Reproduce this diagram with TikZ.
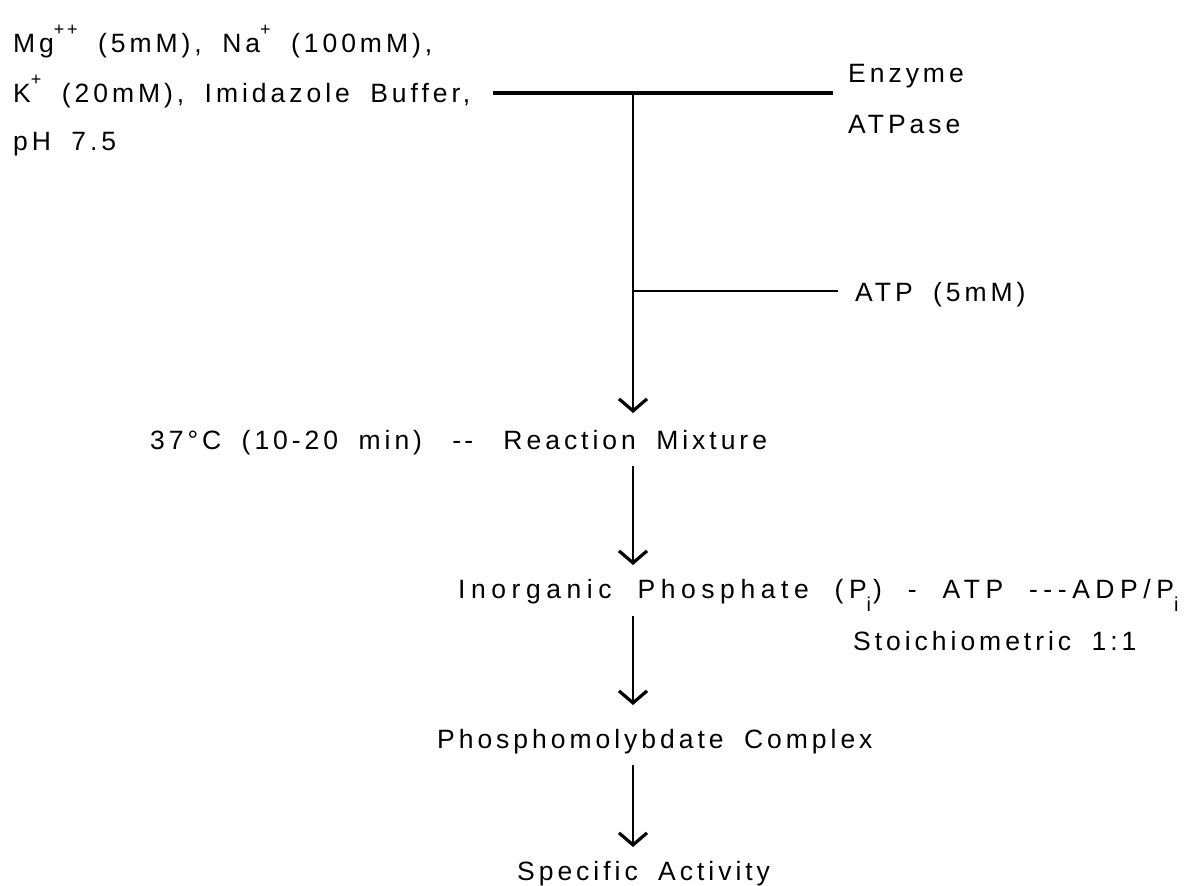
\documentclass[tikz,border=0pt]{standalone}
\usepackage{fontspec}
\setmainfont{Liberation Sans}[LetterSpace=15, WordSpace=1.8]
\newfontfamily\widefont{Liberation Sans}[LetterSpace=21, WordSpace=2.0]
\usetikzlibrary{arrows.meta}
\newcommand{\sbi}{\raisebox{-0.5em}{\fontsize{20}{21}\selectfont i}\kern2pt}
\newcommand{\spr}[1]{\raisebox{0.62em}{\fontsize{18}{19}\selectfont #1}}
\begin{document}
\begin{tikzpicture}[x=1pt,y=-1pt,
  lbl/.style={inner sep=0pt, font=\fontsize{26.5}{30}\selectfont},
  ln/.style={line width=2.6pt},
  arr/.style={line width=2.8pt, -{Straight Barb[length=12pt,width=28pt,line width=3.2pt]}}]
\useasboundingbox (0,0) rectangle (1203,886);
% left text
\node[lbl, anchor=base west] (l1) at (13,52) {Mg\spr{++} (5mM), Na\spr{+} (100mM),};
\node[lbl, anchor=base west] (l2) at (13,102) {K\spr{+} (20mM), Imidazole Buffer,};
\node[lbl, anchor=base west] (l3) at (13,150) {pH 7.5};
% right labels
\node[lbl, anchor=base west] (enz) at (848,82) {Enzyme};
\node[lbl, anchor=base west] (atpase) at (848,133) {ATPase};
\node[lbl, anchor=base west] (atp) at (855,301) {ATP (5mM)};
% top bar
\coordinate (b1) at (493,93);
\coordinate (b2) at (833,93);
\coordinate (j1) at (633,93);
\coordinate (j2) at (633,291);
\coordinate (a2) at (838,291);
\coordinate (t1) at (633,413);
\draw[line width=4pt] (b1) -- (b2);
\draw[ln] (j2) -- (a2);
\draw[arr] (j1) -- (t1);
% reaction mixture
\node[lbl, anchor=base west] (rm) at (150,449) {37°C (10-20 min)\hspace{10pt} -\kern3pt-\hspace{10pt} Reaction Mixture};
\coordinate (s2) at (633,466);
\coordinate (t2) at (633,565);
\draw[arr] (s2) -- (t2);
\node[lbl, anchor=base west] (ip) at (458,598) {\widefont Inorganic Phosphate (P\sbi) - ATP -{}-{}-ADP/P\sbi};
\node[lbl, anchor=base west] (st) at (853,650) {Stoichiometric 1:1};
\coordinate (s3) at (633,616);
\coordinate (t3) at (633,705);
\draw[arr] (s3) -- (t3);
\node[lbl, anchor=base west] (pc) at (437,748) {Phosphomolybdate Complex};
\coordinate (s4) at (633,765);
\coordinate (t4) at (633,847);
\draw[arr] (s4) -- (t4);
\node[lbl, anchor=base west] (sa) at (517,880) {Specific Activity};
\end{tikzpicture}
\end{document}
